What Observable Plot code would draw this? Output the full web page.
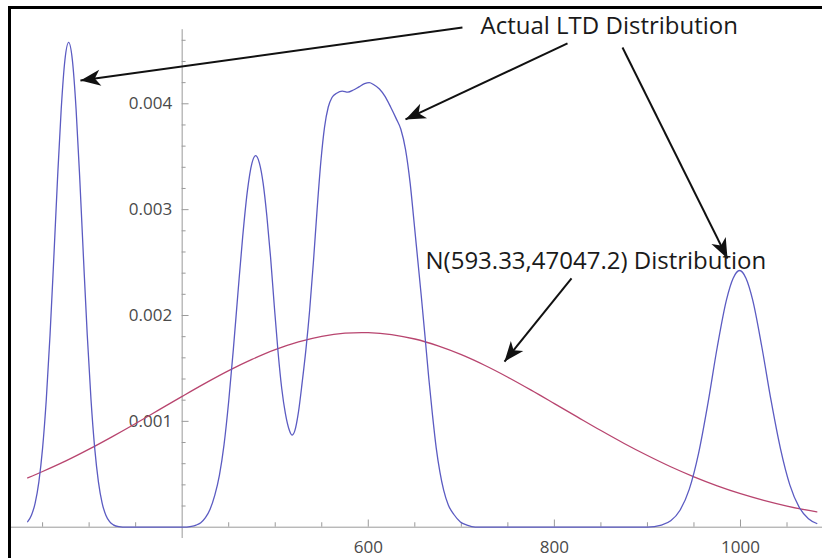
<!DOCTYPE html>
<html>
<head>
<meta charset="utf-8">
<script src="https://cdn.jsdelivr.net/npm/d3@7"></script>
<script src="https://cdn.jsdelivr.net/npm/@observablehq/plot@0.6"></script>
<style>
  html, body { margin: 0; padding: 0; background: #fff; }
  #wrap { position: relative; width: 822px; height: 558px; overflow: hidden; }
  #frame { position: absolute; left: 8px; top: 6px; width: 900px; height: 700px;
           border-left: 3px solid #000; border-top: 3px solid #000; pointer-events: none; }
</style>
</head>
<body>
<div id="wrap"><div id="frame"></div></div>
<script>
// ---- Data ----
// Actual LTD distribution (blue)
const ltdX = [234, 238, 242, 246, 250, 254, 258, 262, 266, 270, 274, 278, 282, 286, 290, 294, 298, 302, 306, 310, 314, 318, 322, 326, 332, 340, 360, 380, 400, 410, 415, 420, 425, 430, 435, 440, 445, 450, 455, 460, 465, 470, 475, 479, 483, 487, 491, 495, 499, 503, 507, 511, 515, 518, 521, 525, 529, 533, 537, 541, 545, 549, 553, 557, 561, 566, 572, 578, 584, 590, 596, 601, 606, 612, 618, 624, 630, 635, 640, 645, 649, 653, 657, 661, 665, 669, 673, 677, 681, 686, 692, 699, 706, 715, 750, 800, 850, 900, 915, 925, 935, 945, 955, 965, 975, 985, 992, 999, 1006, 1013, 1023, 1033, 1043, 1053, 1063, 1073, 1082];
const ltdY = [0.000052, 0.000113, 0.000228, 0.000429, 0.000747, 0.001208, 0.001815, 0.002533, 0.003282, 0.003949, 0.004414, 0.00458, 0.004414, 0.003949, 0.003282, 0.002533, 0.001815, 0.001208, 0.000747, 0.000429, 0.000228, 0.000113, 0.000052, 0.000022, 0.000005, 0, 0, 0, 0, 0.000008, 0.00002, 0.000043, 0.00009, 0.00017, 0.0003, 0.00049, 0.00078, 0.00119, 0.00168, 0.00222, 0.00274, 0.00317, 0.00344, 0.00351, 0.00344, 0.00325, 0.00294, 0.00255, 0.00209, 0.00166, 0.00131, 0.00107, 0.00092, 0.00087, 0.00091, 0.00109, 0.00137, 0.00168, 0.00205, 0.0025, 0.003, 0.00345, 0.00378, 0.00397, 0.00406, 0.0041, 0.00412, 0.00411, 0.00413, 0.00416, 0.00419, 0.0042, 0.00418, 0.00414, 0.00407, 0.00397, 0.00386, 0.00376, 0.00357, 0.00325, 0.0029, 0.00254, 0.00218, 0.0018, 0.00141, 0.00106, 0.00075, 0.00052, 0.00035, 0.00021, 0.00012, 0.00005, 0.00002, 0, 0, 0, 0, 0, 0.00002, 0.00006, 0.00016, 0.00036, 0.0007, 0.00117, 0.0017, 0.00215, 0.00235, 0.002425, 0.00235, 0.00215, 0.0017, 0.00119, 0.00074, 0.0004, 0.00019, 0.00008, 0.000035];

// N(593.33, 47047.2) distribution (red)
const normX = [234, 250, 275, 300, 325, 350, 375, 400, 425, 450, 475, 500, 525, 550, 575, 593, 600, 625, 650, 675, 700, 725, 750, 775, 800, 825, 850, 875, 900, 925, 950, 975, 1000, 1025, 1050, 1075, 1082];
const normY = [0.000466, 0.000526, 0.000626, 0.000737, 0.000856, 0.00098, 0.001108, 0.001236, 0.001361, 0.001479, 0.001585, 0.001677, 0.00175, 0.001803, 0.001833, 0.001839, 0.001838, 0.00182, 0.001778, 0.001713, 0.00163, 0.00153, 0.001417, 0.001295, 0.001168, 0.00104, 0.000913, 0.000791, 0.000677, 0.000571, 0.000476, 0.000391, 0.000317, 0.000254, 0.0002, 0.000156, 0.000145];

// Axis ticks
const xMajorTicks = [600, 800, 1000];
const xMinorTicks = [250, 300, 350, 450, 500, 550, 650, 700, 750, 850, 900, 950, 1050];
const yMajorTicks = [0.001, 0.002, 0.003, 0.004];
const yMinorTicks = [0.0002, 0.0004, 0.0006, 0.0008, 0.0012, 0.0014, 0.0016, 0.0018, 0.0022, 0.0024, 0.0026, 0.0028, 0.0032, 0.0034, 0.0036, 0.0038, 0.0042, 0.0044, 0.0046];

// Annotations (data coordinates)
const labelText = ["Actual LTD Distribution", "N(593.33,47047.2) Distribution"];
const labelX = [720.6, 661.5];
const labelY = [0.00466, 0.002444];
const arrowX1 = [701.2, 814.1, 873.2, 818.4];
const arrowY1 = [0.004721, 0.00457, 0.004532, 0.00235];
const arrowX2 = [290.7, 640.0, 986.0, 746.4];
const arrowY2 = [0.00422, 0.003852, 0.002539, 0.001565];

// ---- Build tables ----
const ltd = ltdX.map((x, i) => ({x, y: ltdY[i]}));
const norm = normX.map((x, i) => ({x, y: normY[i]}));
const labels = labelText.map((t, i) => ({t, x: labelX[i], y: labelY[i]}));
const arrows = arrowX1.map((x1, i) => ({x1, y1: arrowY1[i], x2: arrowX2[i], y2: arrowY2[i]}));

const axisOriginX = 400;
const axisColor = "#9a9a9a";

function arrowHead(color) {
  const ns = "http://www.w3.org/2000/svg";
  const m = document.createElementNS(ns, "marker");
  m.setAttribute("viewBox", "-21 -10 23 20");
  m.setAttribute("markerWidth", 23);
  m.setAttribute("markerHeight", 20);
  m.setAttribute("markerUnits", "userSpaceOnUse");
  m.setAttribute("orient", "auto");
  m.setAttribute("refX", 0);
  m.setAttribute("refY", 0);
  const p = document.createElementNS(ns, "path");
  p.setAttribute("d", "M0,0L-20,-8L-14.5,0L-20,8Z");
  p.setAttribute("fill", color);
  p.setAttribute("stroke", "none");
  m.appendChild(p);
  return m;
}

const chart = Plot.plot({
  width: 822,
  height: 558,
  marginLeft: 27.2,
  marginRight: 5.7,
  marginTop: 29.2,
  marginBottom: 31.3,
  x: {domain: [234, 1082], axis: null},
  y: {domain: [0, 0.0047], axis: null},
  style: {fontFamily: "'Open Sans', sans-serif", background: "transparent", overflow: "visible"},
  marks: [
    // axes
    Plot.ruleY([0], {x1: 215, x2: 1090, stroke: axisColor, strokeWidth: 1}),
    Plot.ruleX([axisOriginX], {y1: -0.000107, y2: 0.0047, stroke: axisColor, strokeWidth: 1}),
    Plot.ruleX(xMinorTicks, {y1: 0, y2: 0.000042, stroke: axisColor}),
    Plot.ruleX(xMajorTicks, {y1: 0, y2: 0.000068, stroke: axisColor}),
    Plot.ruleY(yMinorTicks, {x1: axisOriginX, x2: axisOriginX + 4.2, stroke: axisColor}),
    Plot.ruleY(yMajorTicks, {x1: axisOriginX, x2: axisOriginX + 7.4, stroke: axisColor}),
    Plot.text(xMajorTicks, {x: d => d, y: 0, text: d => String(d), dy: 20.5, fontSize: 17, fill: "#4a4a4a"}),
    Plot.text(yMajorTicks, {x: axisOriginX, y: d => d, text: d => d.toFixed(3), dx: -10, textAnchor: "end", fontSize: 17, fill: "#4a4a4a"}),
    // curves
    Plot.line(norm, {x: "x", y: "y", stroke: "#b8456f", strokeWidth: 1.3, curve: "monotone-x"}),
    Plot.line(ltd, {x: "x", y: "y", stroke: "#5b5bc2", strokeWidth: 1.3, curve: "monotone-x"}),
    // annotations
    Plot.link(arrows, {x1: "x1", y1: "y1", x2: "x2", y2: "y2", stroke: "#111", strokeWidth: 2, markerEnd: arrowHead}),
    Plot.text(labels, {x: "x", y: "y", text: "t", textAnchor: "start", lineAnchor: "bottom", fontSize: 24, fill: "#1a1a1a"})
  ]
});

document.getElementById("wrap").insertBefore(chart, document.getElementById("frame"));
</script>
</body>
</html>
